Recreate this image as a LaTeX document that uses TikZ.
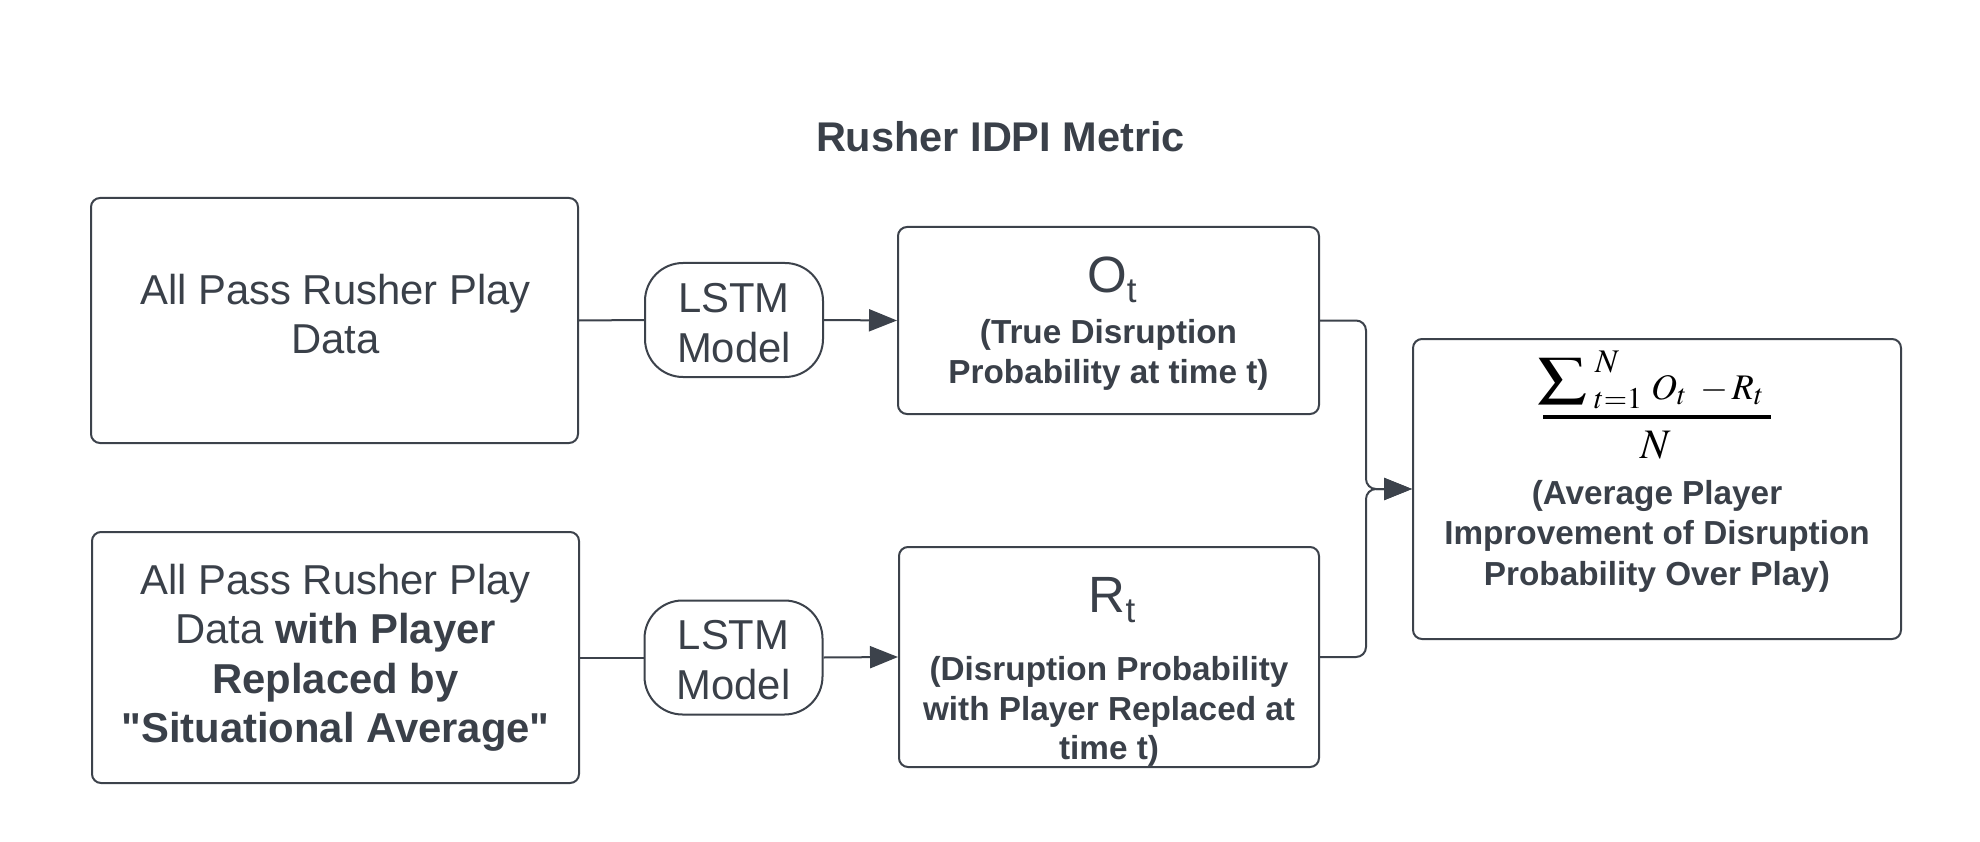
\documentclass[tikz,border=0pt]{standalone}
\usepackage{mathptmx}
\usepackage[no-math]{fontspec}
\setmainfont{Liberation Sans}[Ligatures=TeXOff]
\usepackage{graphicx}
\usetikzlibrary{arrows.meta}
\DeclareMathSizes{36}{36}{29}{22}
\definecolor{ink}{RGB}{58,64,73}
\definecolor{edge}{RGB}{60,66,75}
\begin{document}
\begin{tikzpicture}[x=1pt,y=-1pt,
  box/.style={draw=edge,line width=2pt,rounded corners=9pt,inner sep=0pt},
  pill/.style={draw=edge,line width=2pt,rounded corners=38pt,inner sep=0pt,minimum width=178pt,minimum height=114pt},
  txt/.style={anchor=base,inner sep=0pt,text=ink,font=\fontsize{41.8}{50}\selectfont},
  btxt/.style={anchor=base,inner sep=0pt,text=ink,font=\fontsize{33.3}{40}\selectfont\bfseries},
  mth/.style={anchor=base west,inner sep=0pt,text=black},
  conn/.style={draw=edge,line width=2pt},
  arr/.style={conn,-{Triangle[length=28pt,width=22pt]}}
]
\useasboundingbox (0,0) rectangle (1980,842);
\fill[white] (0,0) rectangle (1980,842);

% title
\node[anchor=base,inner sep=0pt,text=ink,font=\fontsize{41.5}{48}\selectfont\bfseries] (title) at (1000.5,152) {Rusher IDPI Metric};

% boxes
\node[box,minimum width=487pt,minimum height=245pt] (b1) at (334.5,320.5) {};
\node[box,minimum width=487pt,minimum height=251pt] (b2) at (335.5,657.5) {};
\node[pill] (l1) at (734,320) {};
\node[pill] (l2) at (733.5,657.5) {};
\node[box,minimum width=421pt,minimum height=187pt] (bo) at (1108.5,320.5) {};
\node[box,minimum width=420pt,minimum height=220pt] (br) at (1109,657) {};
\node[box,minimum width=488pt,minimum height=300pt] (fin) at (1657,489) {};

% box 1 text
\node[txt] (b1a) at (335.5,304) {All Pass Rusher Play};
\node[txt] (b1b) at (335.5,353) {Data};

% box 2 text
\node[txt] (b2a) at (335.5,594) {All Pass Rusher Play};
\node[txt] (b2b) at (335.5,643.5) {Data \textbf{with Player}};
\node[txt] (b2c) at (335.5,693) {\textbf{Replaced by}};
\node[txt] (b2d) at (335.5,742.5) {\textbf{"Situational Average"}};

% LSTM text
\node[txt] (l1a) at (734,312) {LSTM};
\node[txt] (l1b) at (734,362) {Model};
\node[txt] (l2a) at (733.5,649) {LSTM};
\node[txt] (l2b) at (733.5,699) {Model};

% O box text
\node[txt,font=\fontsize{51}{51}\selectfont] (ot) at (1112,292) {O\raisebox{-10pt}{\fontsize{35}{35}\selectfont t}};
\node[btxt] (oa) at (1108.5,343) {(True Disruption};
\node[btxt] (ob) at (1108.5,383) {Probability at time t)};

% R box text
\node[txt,font=\fontsize{51}{51}\selectfont] (rt) at (1112,612) {R\raisebox{-10pt}{\fontsize{35}{35}\selectfont t}};
\node[btxt] (ra) at (1109,680) {(Disruption Probability};
\node[btxt] (rb) at (1109,720) {with Player Replaced at};
\node[btxt] (rc) at (1109,759) {time t)};

% formula
\node[anchor=south west,inner sep=0pt] (sig) at (1537,404) {\resizebox*{50pt}{46pt}{$\displaystyle\sum$}};
\node[mth] (sup) at (1595,372) {\fontsize{33}{33}\selectfont $N$};
\node[mth] (sub) at (1594,408) {\fontsize{30}{30}\selectfont $t{=}1$};
\node[mth] (ort) at (1651,399) {\fontsize{36}{36}\selectfont $O_t\hspace{13pt}{-}\hspace{4pt}R_t$};
\coordinate (fbl) at (1543,417);
\coordinate (fbr) at (1771,417);
\draw[line width=4pt,black] (fbl) -- (fbr);
\node[anchor=base,inner sep=0pt] (den) at (1656,458) {\fontsize{42}{42}\selectfont $N$};

% final box text
\node[btxt] (fa) at (1657,504) {(Average Player};
\node[btxt] (fb) at (1657,544.5) {Improvement of Disruption};
\node[btxt] (fc) at (1657,585) {Probability Over Play)};

% connectors
\coordinate (j) at (1366,489);
\draw[conn] (b1.east) -- (l1.west);
\draw[arr] (l1.east) -- (bo.west);
\draw[conn] (b2.east) -- (l2.west);
\draw[arr] (l2.east) -- (br.west);
\draw[arr,rounded corners=10pt] (bo.east) -| (j) -- (fin.west);
\draw[arr,rounded corners=10pt] (br.east) -| (j) -- (fin.west);
\end{tikzpicture}
\end{document}
